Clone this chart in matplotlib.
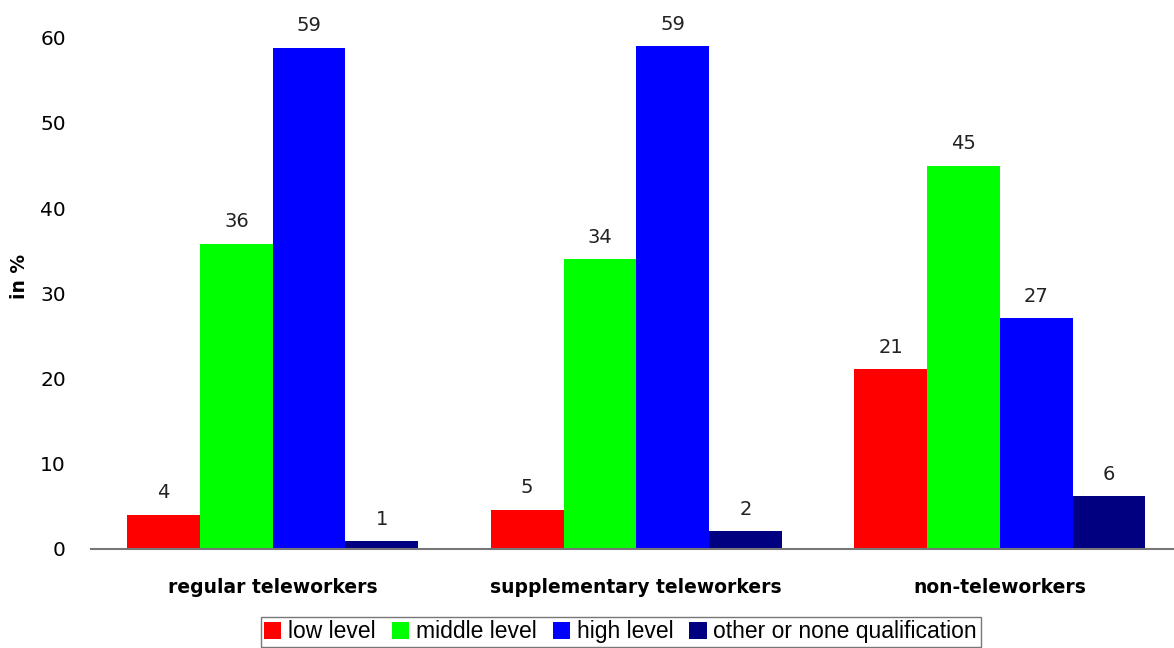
import numpy as np
import matplotlib.pyplot as plt

groups = ["regular teleworkers", "supplementary teleworkers", "non-teleworkers"]
levels = ["low level", "middle level", "high level", "other or none qualification"]
colors = ["#ff0000", "#00ff00", "#0000ff", "#000080"]

low = [4.0, 4.6, 21.1]
middle = [35.8, 34.0, 45.0]
high = [58.8, 59.0, 27.1]
other = [0.9, 2.1, 6.2]
series = [low, middle, high, other]

plt.rcParams['font.family'] = ['DejaVu Sans']

fig = plt.figure(figsize=(11.74, 6.48), dpi=100)
ax = fig.add_axes([0.0775, 0.1528, 0.929, 0.8415])

x = np.arange(len(groups))
w = 0.2
bars = []
for i, vals in enumerate(series):
    b = ax.bar(x + (i - 1.5) * w, vals, w, color=colors[i], label=levels[i], zorder=2)
    bars.append(b)
    for xi, v in zip(x + (i - 1.5) * w, vals):
        ax.annotate("{:.0f}".format(v), (xi, v), xytext=(0, 9), textcoords="offset points",
                    ha="center", va="bottom", fontsize=14, color="#222222")

ax.set_xlim(-0.5, 2.5)
ax.set_ylim(0, 64)
ax.set_yticks(range(0, 61, 10))
ax.set_xticks(x)
ax.set_xticklabels(groups, fontsize=13.5, fontweight="bold")
ax.tick_params(axis="x", length=0, pad=21)
ax.tick_params(axis="y", length=0, labelsize=14.5, pad=18)
for s in ["top", "right", "left"]:
    ax.spines[s].set_visible(False)
ax.spines["bottom"].set_color("#777777")
ax.spines["bottom"].set_linewidth(1.5)
ax.set_ylabel("in %", fontsize=13.5, fontweight="bold", labelpad=8)

leg = fig.legend(handles=bars, labels=levels, loc="upper center", bbox_to_anchor=(0.5286, 0.048),
                 ncol=4, frameon=True, fancybox=False, edgecolor="#555555", borderaxespad=0,
                 handlelength=0.75, handleheight=0.75, handletextpad=0.3, columnspacing=0.7,
                 borderpad=0.15, prop={"family": ["Liberation Sans"], "size": 16.5})
leg.get_frame().set_linewidth(1.0)

fig.savefig("out.png", dpi=100)
